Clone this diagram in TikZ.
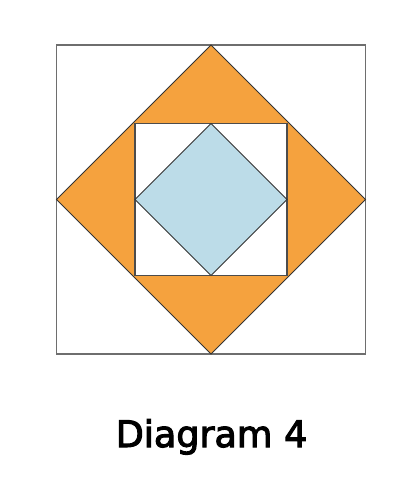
\documentclass[tikz,border=0pt]{standalone}
\usepackage{fontspec}
\setmainfont{DejaVu Sans}
\newfontfamily\titlefont[FakeBold=3]{DejaVu Sans}
\definecolor{quiltorange}{HTML}{F5A23E}
\definecolor{quiltblue}{HTML}{BCDCE8}
\definecolor{edgegray}{HTML}{6E6E6E}
\begin{document}
\begin{tikzpicture}[x=1pt,y=-1pt]
\useasboundingbox (0,0) rectangle (408,499);
% outer block
\coordinate (tl) at (56.5,45);
\coordinate (br) at (365.5,354);
\coordinate (top) at (211,45);
\coordinate (right) at (365.5,199.5);
\coordinate (bottom) at (211,354);
\coordinate (left) at (56.5,199.5);
\draw[edgegray, line width=1.2pt] (tl) rectangle (br);
\filldraw[fill=quiltorange, draw=black!80, line width=0.9pt] (top) -- (right) -- (bottom) -- (left) -- cycle;
% centre square
\coordinate (itl) at (135,123.5);
\coordinate (ibr) at (287,275.5);
\filldraw[fill=white, draw=black!70, line width=1.2pt] (itl) rectangle (ibr);
% blue diamond
\coordinate (itop) at (211,123.5);
\coordinate (iright) at (287,199.5);
\coordinate (ibottom) at (211,275.5);
\coordinate (ileft) at (135,199.5);
\filldraw[fill=quiltblue, draw=black!80, line width=0.9pt] (itop) -- (iright) -- (ibottom) -- (ileft) -- cycle;
\node (title) at (211.5,447)[anchor=base]{\titlefont\fontsize{36.5}{40}\selectfont Diagram 4};
\end{tikzpicture}
\end{document}
